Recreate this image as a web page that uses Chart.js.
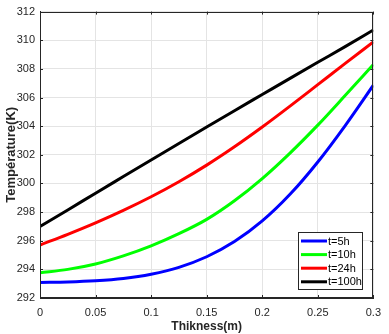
<!DOCTYPE html>
<html>
<head>
<meta charset="utf-8">
<script src="https://cdn.jsdelivr.net/npm/chart.js@4.4.0/dist/chart.umd.min.js"></script>
<style>
    html, body { margin: 0; padding: 0; background: #fff; }
    #wrap { width: 389px; height: 334px; }
</style>
</head>
<body>
<div id="wrap"><canvas id="tempChart" width="389" height="334"></canvas></div>
<script>
// epaisseur (m)
const thickness = [0, 0.025, 0.05, 0.075, 0.1, 0.125, 0.15, 0.175, 0.2, 0.225, 0.25, 0.275, 0.3];

// temperatures (K)
const t5h   = [293.09, 293.12, 293.2, 293.36, 293.66, 294.14, 294.88, 295.94, 297.38, 299.24, 301.5, 304.08, 306.86];
const t10h  = [293.76, 294.0, 294.38, 294.94, 295.64, 296.49, 297.49, 298.79, 300.34, 302.12, 304.07, 306.17, 308.3];
const t24h  = [295.7, 296.45, 297.25, 298.12, 299.07, 300.12, 301.28, 302.56, 303.94, 305.4, 306.9, 308.4, 309.88];
const t100h = [297.0, 298.15, 299.32, 300.48, 301.64, 302.79, 303.94, 305.08, 306.21, 307.34, 308.46, 309.57, 310.72];

const seriesLabels = ['t=5h', 't=10h', 't=24h', 't=100h'];
const seriesColors = ['#0000ff', '#00ff00', '#ff0000', '#000000'];
const seriesValues = [t5h, t10h, t24h, t100h];

const xTicks = [0, 0.05, 0.1, 0.15, 0.2, 0.25, 0.3];
const yTicks = [292, 294, 296, 298, 300, 302, 304, 306, 308, 310, 312];

const axisColor = '#262626';

// cadre + petites graduations vers l'interieur (style matlab)
const boxFrame = {
    id: 'boxFrame',
    afterDatasetsDraw(chart) {
        const ctx = chart.ctx;
        const a = chart.chartArea;
        const xs = chart.scales.x, ys = chart.scales.y;
        ctx.save();
        ctx.strokeStyle = axisColor;
        ctx.lineWidth = 1;
        ctx.strokeRect(Math.round(a.left) + 0.5, Math.round(a.top) + 0.5,
            Math.round(a.right - a.left) - 1, Math.round(a.bottom - a.top) - 1);
        ctx.beginPath();
        xTicks.forEach(v => {
            const px = Math.round(xs.getPixelForValue(v)) + 0.5;
            ctx.moveTo(px, a.bottom); ctx.lineTo(px, a.bottom - 3);
            ctx.moveTo(px, a.top); ctx.lineTo(px, a.top + 3);
        });
        yTicks.forEach(v => {
            const py = Math.round(ys.getPixelForValue(v)) + 0.5;
            ctx.moveTo(a.left, py); ctx.lineTo(a.left + 3, py);
            ctx.moveTo(a.right, py); ctx.lineTo(a.right - 3, py);
        });
        ctx.stroke();
        ctx.restore();
    }
};

// legende dans le coin bas droit
const legendBox = {
    id: 'legendBox',
    afterDraw(chart) {
        const ctx = chart.ctx;
        const a = chart.chartArea;
        const w = 64, h = 57;
        const x = Math.round(a.right - 11 - w);
        const y = Math.round(a.bottom - 9 - h);
        ctx.save();
        ctx.fillStyle = '#fff';
        ctx.fillRect(x, y, w, h);
        ctx.strokeStyle = axisColor;
        ctx.lineWidth = 1;
        ctx.strokeRect(x + 0.5, y + 0.5, w, h);
        ctx.font = '11px "Liberation Sans", Arial, sans-serif';
        ctx.textBaseline = 'middle';
        chart.data.datasets.forEach((ds, i) => {
            const cy = y + 9 + i * 13.6;
            ctx.strokeStyle = ds.borderColor;
            ctx.lineWidth = 3;
            ctx.beginPath();
            ctx.moveTo(x + 3, cy);
            ctx.lineTo(x + 29, cy);
            ctx.stroke();
            ctx.fillStyle = '#000';
            ctx.fillText(ds.label, x + 30, cy + 0.5);
        });
        ctx.restore();
    }
};

const datasets = seriesValues.map((vals, i) => ({
    label: seriesLabels[i],
    data: thickness.map((x, j) => ({ x: x, y: vals[j] })),
    borderColor: seriesColors[i],
    backgroundColor: seriesColors[i],
    borderWidth: 3,
    pointRadius: 0,
    cubicInterpolationMode: 'monotone',
    fill: false
}));

const ctx = document.getElementById('tempChart').getContext('2d');
new Chart(ctx, {
    type: 'line',
    data: { datasets: datasets },
    options: {
        responsive: false,
        animation: false,
        devicePixelRatio: 1,
        layout: { padding: { top: 7, right: 10, bottom: 0, left: 0 } },
        plugins: {
            legend: { display: false },
            tooltip: { enabled: false }
        },
        scales: {
            x: {
                type: 'linear',
                min: 0,
                max: 0.3,
                afterFit: s => { s.height = 36; },
                afterBuildTicks: s => { s.ticks = xTicks.map(v => ({ value: v })); },
                grid: { color: '#e4e4e4', drawTicks: false },
                border: { color: axisColor },
                ticks: {
                    padding: 8,
                    color: axisColor,
                    font: { family: '"Liberation Sans", Arial, sans-serif', size: 11 },
                    callback: v => String(v)
                },
                title: {
                    display: true,
                    text: 'Thikness(m)',
                    color: axisColor,
                    padding: { top: 0, bottom: 0 },
                    font: { family: '"Liberation Sans", Arial, sans-serif', size: 12, weight: 'bold' }
                }
            },
            y: {
                min: 292,
                max: 312,
                afterFit: s => { s.width = 40; },
                afterBuildTicks: s => { s.ticks = yTicks.map(v => ({ value: v })); },
                grid: { color: '#e4e4e4', drawTicks: false },
                border: { color: axisColor },
                ticks: {
                    padding: 5,
                    color: axisColor,
                    font: { family: '"Liberation Sans", Arial, sans-serif', size: 11 }
                },
                title: {
                    display: true,
                    text: 'Température(K)',
                    color: axisColor,
                    padding: { top: 4, bottom: 0 },
                    font: { family: '"Liberation Sans", Arial, sans-serif', size: 13, weight: 'bold' }
                }
            }
        }
    },
    plugins: [boxFrame, legendBox]
});
</script>
</body>
</html>
